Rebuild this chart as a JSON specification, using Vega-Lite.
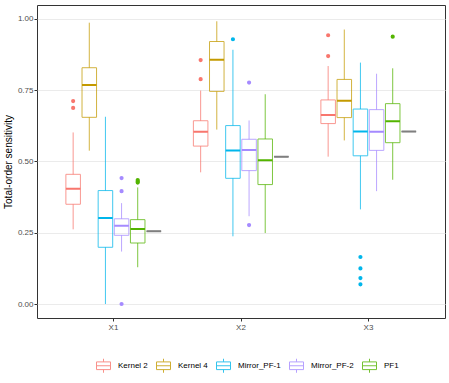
{
  "$schema": "https://vega.github.io/schema/vega-lite/v6.json",
  "width": 408,
  "height": 313,
  "autosize": {"type": "none"},
  "padding": {"left": 37, "top": 5, "right": 4, "bottom": 65},
  "background": "white",
  "config": {
    "view": {"stroke": "#333333", "strokeWidth": 1},
    "font": "Liberation Sans",
    "axis": {
      "domain": false,
      "gridColor": "#EBEBEB",
      "gridWidth": 1,
      "tickColor": "#333333",
      "tickSize": 3,
      "labelColor": "#4D4D4D",
      "labelFontSize": 8,
      "labelFont": "Liberation Sans",
      "titleFont": "Liberation Sans",
      "titleFontWeight": "normal",
      "titleFontSize": 10,
      "titleColor": "#000000"
    }
  },
  "datasets": {
    "boxes": [
      {"var": "X1", "method": "Kernel 2", "lower": 0.262, "q1": 0.350, "median": 0.404, "q3": 0.455, "upper": 0.602},
      {"var": "X1", "method": "Kernel 4", "lower": 0.538, "q1": 0.655, "median": 0.768, "q3": 0.829, "upper": 0.987},
      {"var": "X1", "method": "Mirror_PF-1", "lower": 0.0, "q1": 0.199, "median": 0.302, "q3": 0.398, "upper": 0.657},
      {"var": "X1", "method": "Mirror_PF-2", "lower": 0.184, "q1": 0.241, "median": 0.275, "q3": 0.299, "upper": 0.354},
      {"var": "X1", "method": "PF1", "lower": 0.129, "q1": 0.214, "median": 0.263, "q3": 0.296, "upper": 0.409},
      {"var": "X1", "method": "Reference", "lower": 0.255, "q1": 0.255, "median": 0.255, "q3": 0.255, "upper": 0.255},
      {"var": "X2", "method": "Kernel 2", "lower": 0.462, "q1": 0.554, "median": 0.604, "q3": 0.643, "upper": 0.749},
      {"var": "X2", "method": "Kernel 4", "lower": 0.612, "q1": 0.746, "median": 0.857, "q3": 0.921, "upper": 0.992},
      {"var": "X2", "method": "Mirror_PF-1", "lower": 0.2375, "q1": 0.441, "median": 0.539, "q3": 0.626, "upper": 0.892},
      {"var": "X2", "method": "Mirror_PF-2", "lower": 0.308, "q1": 0.468, "median": 0.540, "q3": 0.578, "upper": 0.644},
      {"var": "X2", "method": "PF1", "lower": 0.249, "q1": 0.419, "median": 0.504, "q3": 0.579, "upper": 0.736},
      {"var": "X2", "method": "Reference", "lower": 0.517, "q1": 0.517, "median": 0.517, "q3": 0.517, "upper": 0.517},
      {"var": "X3", "method": "Kernel 2", "lower": 0.517, "q1": 0.633, "median": 0.663, "q3": 0.716, "upper": 0.835},
      {"var": "X3", "method": "Kernel 4", "lower": 0.574, "q1": 0.654, "median": 0.713, "q3": 0.788, "upper": 0.963},
      {"var": "X3", "method": "Mirror_PF-1", "lower": 0.332, "q1": 0.520, "median": 0.605, "q3": 0.684, "upper": 0.847},
      {"var": "X3", "method": "Mirror_PF-2", "lower": 0.396, "q1": 0.539, "median": 0.604, "q3": 0.682, "upper": 0.808},
      {"var": "X3", "method": "PF1", "lower": 0.436, "q1": 0.566, "median": 0.641, "q3": 0.703, "upper": 0.827},
      {"var": "X3", "method": "Reference", "lower": 0.605, "q1": 0.605, "median": 0.605, "q3": 0.605, "upper": 0.605}
    ],
    "outliers": [
      {"var": "X1", "method": "Kernel 2", "value": 0.712},
      {"var": "X1", "method": "Kernel 2", "value": 0.688},
      {"var": "X1", "method": "Mirror_PF-2", "value": 0.442},
      {"var": "X1", "method": "Mirror_PF-2", "value": 0.396},
      {"var": "X1", "method": "Mirror_PF-2", "value": 0.0},
      {"var": "X1", "method": "PF1", "value": 0.435},
      {"var": "X1", "method": "PF1", "value": 0.430},
      {"var": "X1", "method": "PF1", "value": 0.426},
      {"var": "X2", "method": "Kernel 2", "value": 0.856},
      {"var": "X2", "method": "Kernel 2", "value": 0.789},
      {"var": "X2", "method": "Mirror_PF-1", "value": 0.929},
      {"var": "X2", "method": "Mirror_PF-2", "value": 0.777},
      {"var": "X2", "method": "Mirror_PF-2", "value": 0.277},
      {"var": "X3", "method": "Kernel 2", "value": 0.943},
      {"var": "X3", "method": "Kernel 2", "value": 0.870},
      {"var": "X3", "method": "Mirror_PF-1", "value": 0.165},
      {"var": "X3", "method": "Mirror_PF-1", "value": 0.125},
      {"var": "X3", "method": "Mirror_PF-1", "value": 0.091},
      {"var": "X3", "method": "Mirror_PF-1", "value": 0.069},
      {"var": "X3", "method": "PF1", "value": 0.938}
    ]
  },
  "encoding": {
    "x": {
      "field": "var", "type": "nominal",
      "scale": {"paddingInner": 0, "paddingOuter": 0.1},
      "axis": {"title": null, "labelAngle": 0, "labelPadding": 2}
    },
    "xOffset": {
      "field": "method", "type": "nominal",
      "scale": {"domain": ["Kernel 2", "Kernel 4", "Mirror_PF-1", "Mirror_PF-2", "PF1", "Reference"], "paddingInner": 0.1, "paddingOuter": 1.05}
    },
    "color": {
      "field": "method", "type": "nominal",
      "scale": {
        "domain": ["Kernel 2", "Kernel 4", "Mirror_PF-1", "Mirror_PF-2", "PF1", "Reference"],
        "range": ["#F8766D", "#C49A00", "#00B6EB", "#A58AFF", "#53B400", "#7F7F7F"]
      },
      "legend": {
        "values": ["Kernel 2", "Kernel 4", "Mirror_PF-1", "Mirror_PF-2", "PF1"],
        "title": null,
        "orient": "none",
        "direction": "horizontal",
        "legendX": 59,
        "legendY": 353,
        "padding": 0,
        "columnPadding": 6,
        "labelOffset": 7,
        "labelFontSize": 8,
        "labelFont": "Liberation Sans",
        "labelColor": "#000000",
        "symbolType": "M-1,-0.55H1V0.55H-1Z M-1,0H1 M0,-0.55V-1 M0,0.55V1",
        "symbolSize": 196,
        "symbolStrokeWidth": 1,
        "symbolFillColor": "transparent",
        "symbolOpacity": 0.8
      }
    }
  },
  "layer": [
    {
      "data": {"name": "boxes"},
      "mark": {"type": "rule", "strokeWidth": 1, "opacity": 0.75},
      "encoding": {
        "y": {
          "field": "lower", "type": "quantitative",
          "scale": {"domain": [-0.0491, 1.0491], "nice": false, "zero": false},
          "axis": {"title": "Total-order sensitivity", "values": [0, 0.25, 0.5, 0.75, 1], "format": ".2f", "labelPadding": 1, "titlePadding": 4, "orient": "left"}
        },
        "y2": {"field": "q1"}
      }
    },
    {
      "data": {"name": "boxes"},
      "mark": {"type": "rule", "strokeWidth": 1, "opacity": 0.75},
      "encoding": {
        "y": {
          "field": "q3", "type": "quantitative",
          "axis": {"orient": "right", "title": null, "values": [0.125, 0.375, 0.625, 0.875], "labels": false, "ticks": false, "domain": false, "gridColor": "#F2F2F2", "gridWidth": 0.7}
        },
        "y2": {"field": "upper"}
      }
    },
    {
      "data": {"name": "boxes"},
      "mark": {"type": "bar", "filled": false, "strokeWidth": 1, "opacity": 0.75},
      "encoding": {
        "y": {"field": "q1", "type": "quantitative", "axis": null},
        "y2": {"field": "q3"}
      }
    },
    {
      "data": {"name": "boxes"},
      "mark": {"type": "bar", "filled": false, "strokeWidth": 2, "opacity": 1},
      "encoding": {
        "y": {"field": "median", "type": "quantitative", "axis": null},
        "y2": {"field": "median"}
      }
    },
    {
      "data": {"name": "outliers"},
      "mark": {"type": "point", "shape": "circle", "filled": false, "size": 4, "strokeWidth": 2.2, "opacity": 1},
      "encoding": {
        "y": {"field": "value", "type": "quantitative", "axis": null}
      }
    }
  ],
  "resolve": {"axis": {"y": "independent"}}
}
